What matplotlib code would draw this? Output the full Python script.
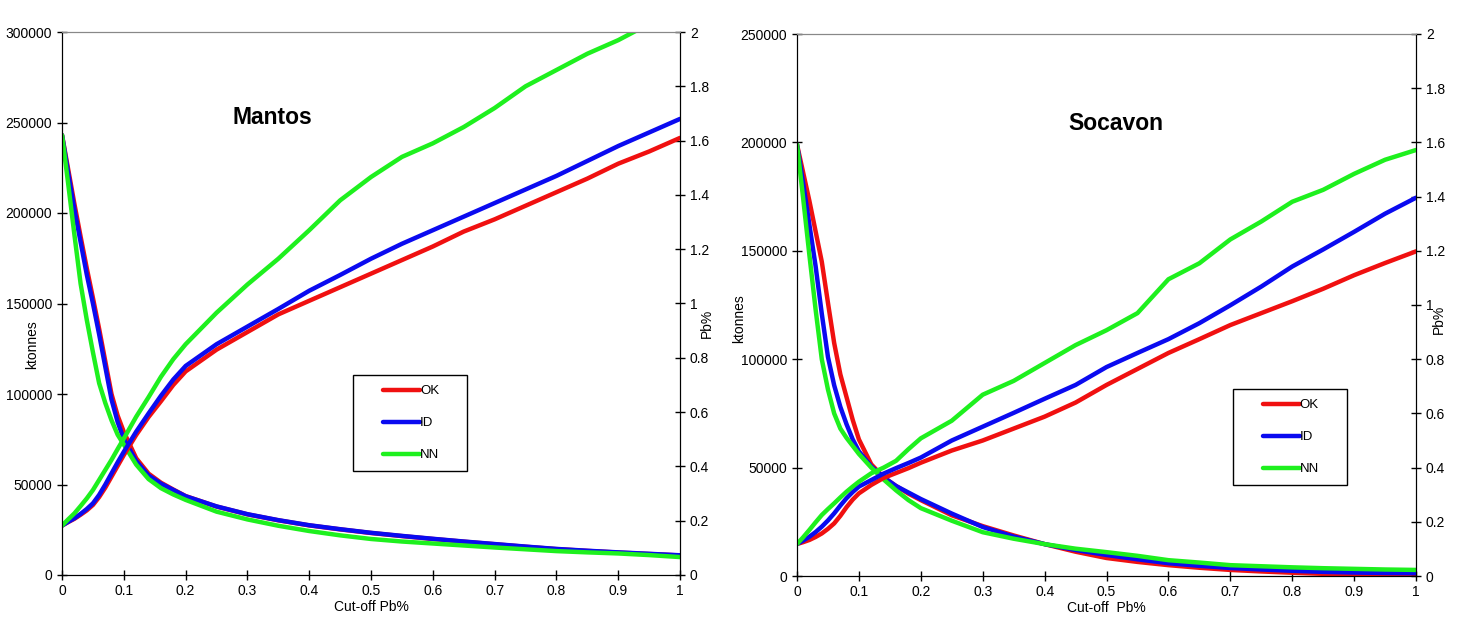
import matplotlib.pyplot as plt
from matplotlib.ticker import FuncFormatter, MultipleLocator
from matplotlib.legend_handler import HandlerLine2D
from matplotlib.lines import Line2D

plt.rcParams['font.family'] = ['Liberation Sans', 'DejaVu Sans']

# --- data ---
cutoff = [0, 0.01, 0.02, 0.03, 0.04, 0.05, 0.06, 0.07, 0.08, 0.09, 0.1, 0.12, 0.14,
          0.16, 0.18, 0.2, 0.25, 0.3, 0.35, 0.4, 0.45, 0.5, 0.55, 0.6, 0.65, 0.7,
          0.75, 0.8, 0.85, 0.9, 0.95, 1.0]

# Mantos
mantos_ton_ok = [243000, 224000, 205000, 187000, 169500, 153000, 136000, 118000, 100000,
                 88000, 79000, 64500, 56000, 51000, 47200, 43600, 37800, 33500, 30200,
                 27400, 25200, 23200, 21500, 19900, 18400, 17000, 15600, 14300, 13300,
                 12400, 11600, 10800]
mantos_ton_id = [243000, 222000, 202000, 184000, 166000, 150000, 133000, 115000, 97000,
                 84500, 75000, 63000, 55000, 50500, 47000, 43500, 37900, 33600, 30300,
                 27500, 25300, 23300, 21600, 20000, 18500, 17100, 15700, 14400, 13400,
                 12500, 11700, 10900]
mantos_ton_nn = [243000, 216000, 188000, 161000, 141000, 123000, 106000, 95000, 85500,
                 77500, 72000, 61000, 53000, 48000, 44500, 41500, 35000, 30700, 27200,
                 24300, 21900, 19900, 18500, 17400, 16300, 15200, 14200, 13200, 12500,
                 11900, 11000, 9900]
mantos_pb_ok = [0.182, 0.195, 0.207, 0.222, 0.238, 0.258, 0.287, 0.322, 0.362, 0.402,
                0.442, 0.516, 0.582, 0.64, 0.70, 0.75, 0.83, 0.895, 0.96, 1.01, 1.06,
                1.11, 1.16, 1.21, 1.265, 1.31, 1.36, 1.41, 1.46, 1.515, 1.56, 1.61]
mantos_pb_id = [0.182, 0.196, 0.209, 0.225, 0.243, 0.264, 0.295, 0.333, 0.374, 0.415,
                0.454, 0.528, 0.595, 0.66, 0.72, 0.77, 0.85, 0.915, 0.98, 1.047, 1.105,
                1.165, 1.22, 1.27, 1.32, 1.37, 1.42, 1.47, 1.525, 1.58, 1.63, 1.68]
mantos_pb_nn = [0.182, 0.205, 0.227, 0.254, 0.282, 0.313, 0.35, 0.387, 0.424, 0.464,
                0.503, 0.583, 0.655, 0.73, 0.795, 0.85, 0.966, 1.07, 1.165, 1.27, 1.38,
                1.466, 1.54, 1.59, 1.65, 1.72, 1.80, 1.86, 1.92, 1.97, 2.03, 2.08]

# Socavon
socavon_ton_ok = [199000, 186000, 173000, 159000, 145000, 126000, 107500, 93000, 82500,
                  72000, 63000, 51500, 45500, 41500, 38000, 35000, 28000, 23000, 18700,
                  14700, 11200, 8300, 6500, 5000, 3800, 2800, 2100, 1500, 1000, 700,
                  500, 400]
socavon_ton_id = [199000, 181000, 162000, 143000, 121000, 101000, 88000, 78000, 70000,
                  63000, 57500, 50500, 45500, 41500, 38500, 35500, 28800, 22600, 18200,
                  14700, 12000, 9700, 7700, 5900, 4700, 3700, 3000, 2400, 1900, 1600,
                  1400, 1300]
socavon_ton_nn = [199000, 174000, 148000, 123000, 100000, 86000, 75000, 68000, 63700,
                  60000, 56300, 50000, 44500, 39500, 35000, 31300, 25500, 20200, 17200,
                  14700, 12600, 11000, 9300, 7300, 6200, 5000, 4500, 4000, 3600, 3300,
                  3000, 2800]
socavon_pb_ok = [0.118, 0.125, 0.133, 0.144, 0.157, 0.174, 0.194, 0.222, 0.254, 0.282,
                 0.305, 0.336, 0.362, 0.38, 0.398, 0.418, 0.463, 0.50, 0.544, 0.588,
                 0.64, 0.705, 0.764, 0.823, 0.874, 0.926, 0.97, 1.014, 1.06, 1.11,
                 1.155, 1.198]
socavon_pb_id = [0.118, 0.131, 0.145, 0.162, 0.182, 0.205, 0.231, 0.26, 0.287, 0.31,
                 0.33, 0.354, 0.378, 0.398, 0.417, 0.437, 0.50, 0.551, 0.602, 0.654,
                 0.705, 0.771, 0.823, 0.874, 0.933, 0.999, 1.068, 1.142, 1.205, 1.27,
                 1.337, 1.396]
socavon_pb_nn = [0.118, 0.143, 0.17, 0.198, 0.225, 0.247, 0.268, 0.29, 0.311, 0.33,
                 0.348, 0.379, 0.40, 0.425, 0.468, 0.508, 0.573, 0.669, 0.72, 0.786,
                 0.852, 0.907, 0.97, 1.095, 1.154, 1.242, 1.308, 1.381, 1.425, 1.484,
                 1.536, 1.572]

labels = ['OK', 'ID', 'NN']
colors = ['#f01010', '#0a0af0', '#1ef01e']

fmt = FuncFormatter(lambda v, p: '%g' % v)


def panel(rect, title, title_xy, ton, pb, ymax, leg_box, xlabel, lab_pos):
    ax = fig.add_axes(rect)
    ax2 = ax.twinx()
    for t, c in zip(ton, colors):
        ax.plot(cutoff, t, color=c, lw=3.2, solid_capstyle='round')
    handles = []
    for g, c, lab in zip(pb, colors, labels):
        h, = ax2.plot(cutoff, g, color=c, lw=3.2, solid_capstyle='round', label=lab)
        handles.append(h)

    ax.set_xlim(0, 1)
    ax.set_ylim(0, ymax)
    ax2.set_ylim(0, 2)
    ax.xaxis.set_major_locator(MultipleLocator(0.1))
    ax.yaxis.set_major_locator(MultipleLocator(50000))
    ax2.yaxis.set_major_locator(MultipleLocator(0.2))
    ax.xaxis.set_major_formatter(fmt)
    ax2.yaxis.set_major_formatter(fmt)

    for a in (ax, ax2):
        a.tick_params(direction='inout', length=7, width=1, labelsize=10, colors='black')
        a.spines['top'].set_color('#888888')
        a.spines['top'].set_linewidth(0.8)
    ax.tick_params(axis='x', pad=3)

    ax.set_xlabel(xlabel, fontsize=10)
    ax.xaxis.set_label_coords(0.5, -0.046)
    ax.set_ylabel('ktonnes', fontsize=10)
    ax.yaxis.set_label_coords(lab_pos[0], lab_pos[1])
    ax2.set_ylabel('Pb%', fontsize=10)
    ax2.yaxis.set_label_coords(lab_pos[2], lab_pos[3])

    ax.text(title_xy[0], title_xy[1], title, transform=ax.transAxes,
            fontsize=16.5, fontweight='bold', ha='center', va='center')

    leg = ax2.legend(handles=handles, loc='upper left', bbox_to_anchor=leg_box,
                     mode='expand', fontsize=9.5, frameon=True, fancybox=False,
                     edgecolor='black', framealpha=1, borderpad=0.75,
                     labelspacing=1.5, handlelength=4.33, handletextpad=0.0,
                     borderaxespad=0,
                     handler_map={Line2D: HandlerLine2D(xpad=1.5)})
    leg.get_frame().set_linewidth(1.0)
    return ax


fig = plt.figure(figsize=(14.6, 6.25), dpi=100)

panel([0.0425, 0.08, 0.4233, 0.8688], 'Mantos', (0.34, 0.843),
      [mantos_ton_ok, mantos_ton_id, mantos_ton_nn],
      [mantos_pb_ok, mantos_pb_id, mantos_pb_nn],
      300000, (0.471, 0.368, 0.184, 0.0), 'Cut-off Pb%',
      (-0.037, 0.424, 1.032, 0.464))

panel([0.5459, 0.0784, 0.424, 0.8672], 'Socavon', (0.515, 0.834),
      [socavon_ton_ok, socavon_ton_id, socavon_ton_nn],
      [socavon_pb_ok, socavon_pb_id, socavon_pb_nn],
      250000, (0.704, 0.345, 0.185, 0.0), 'Cut-off  Pb%',
      (-0.082, 0.474, 1.026, 0.474))

fig.savefig('out.png', dpi=100)
